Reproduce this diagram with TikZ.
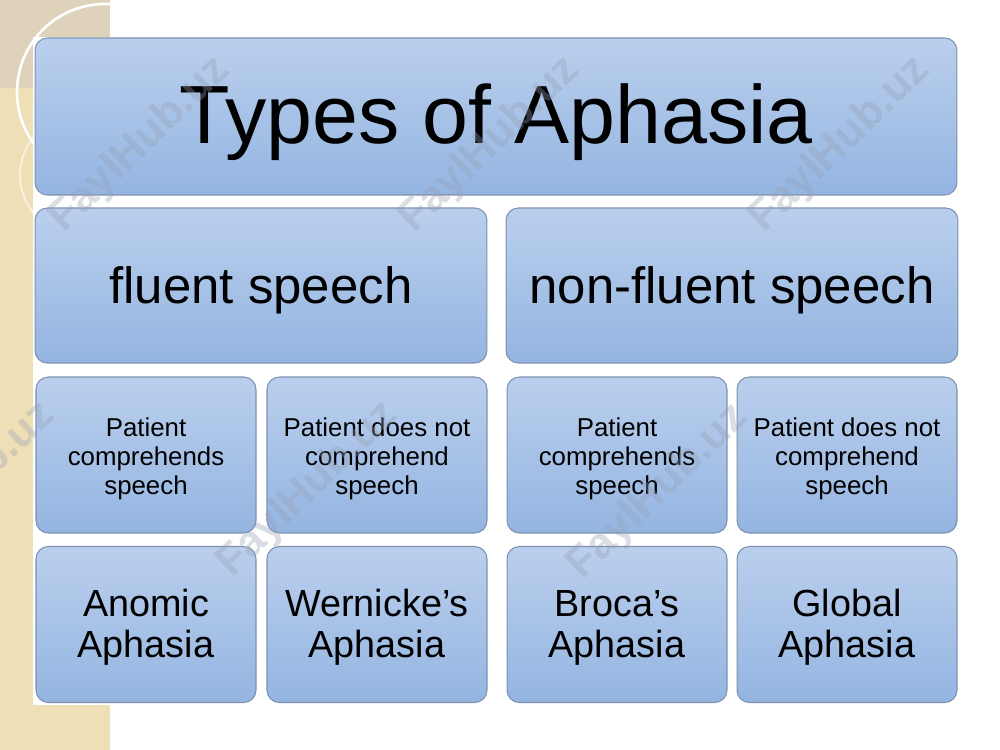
\documentclass[tikz,border=0pt]{standalone}
\usepackage{fontspec}
\setmainfont{Liberation Sans}
\usetikzlibrary{shadings}
\definecolor{boxtop}{RGB}{186,207,237}
\definecolor{boxbot}{RGB}{148,181,225}
\definecolor{boxline}{RGB}{125,145,176}
\definecolor{sand}{RGB}{239,223,182}
\definecolor{taupe}{RGB}{222,210,186}
\definecolor{wmark}{RGB}{150,160,180}

\begin{document}
\begin{tikzpicture}[x=0.02cm, y=-0.02cm, line join=round, line cap=round,
  abox/.style={rectangle, rounded corners=7pt, draw=boxline, line width=0.6pt,
    top color=boxtop, bottom color=boxbot, inner sep=0pt, outer sep=0pt, align=center},
  bigbox/.style={abox, minimum width=9.04cm, minimum height=3.1cm, text depth=0.5pt,
    font=\fontsize{29}{34}\selectfont},
  smallbox/.style={abox, minimum width=4.4cm, minimum height=3.12cm},
  askbox/.style={smallbox, text height=47.9pt, font=\fontsize{14.7}{16.4}\selectfont},
  namebox/.style={smallbox, text height=41.5pt, font=\fontsize{21.5}{23.3}\selectfont},
  wm/.style={text=wmark, opacity=0.35, rotate=44, font=\bfseries\fontsize{24.8}{26}\selectfont}]
\useasboundingbox (0,0) rectangle (1000,750);
% background
\fill[white] (0,0) rectangle (1000,750);
\fill[sand] (0,0) rectangle (110,750);
\fill[taupe] (0,0) rectangle (110,88);
\draw[white, line width=1.5pt] (105,92) circle (88);
\draw[white, line width=1pt, opacity=0.6] (80,175) circle (60);
\fill[white] (33,37) rectangle (1000,705);
% boxes
\node[abox, minimum width=18.44cm, minimum height=3.14cm, text depth=3pt,
  font=\fontsize{47}{50}\selectfont] (title) at (496,116.5) {Types of Aphasia};
\node[bigbox] (fluent) at (261,285.5) {fluent speech};
\node[bigbox] (nonfluent) at (732,285.5) {non-fluent speech};
\node[askbox] (fcomp) at (146,455) {Patient\\comprehends\\speech};
\node[askbox] (fnocomp) at (377,455) {Patient does not\\comprehend\\speech};
\node[askbox] (ncomp) at (617,455) {Patient\\comprehends\\speech};
\node[askbox] (nnocomp) at (847,455) {Patient does not\\comprehend\\speech};
\node[namebox] (anomic) at (146,624.5) {Anomic\\Aphasia};
\node[namebox] (wernicke) at (377,624.5) {Wernicke’s\\Aphasia};
\node[namebox] (broca) at (617,624.5) {Broca’s\\Aphasia};
\node[namebox] (global) at (847,624.5) {Global\\Aphasia};
% watermarks
\node[wm] (wm1) at (140,145) {FaylHub.uz};
\node[wm] (wm2) at (490,145) {FaylHub.uz};
\node[wm] (wm3) at (840,145) {FaylHub.uz};
\node[wm] (wm4) at (-35,490) {FaylHub.uz};
\node[wm] (wm5) at (308,490) {FaylHub.uz};
\node[wm] (wm6) at (658,492) {FaylHub.uz};
\end{tikzpicture}
\end{document}
